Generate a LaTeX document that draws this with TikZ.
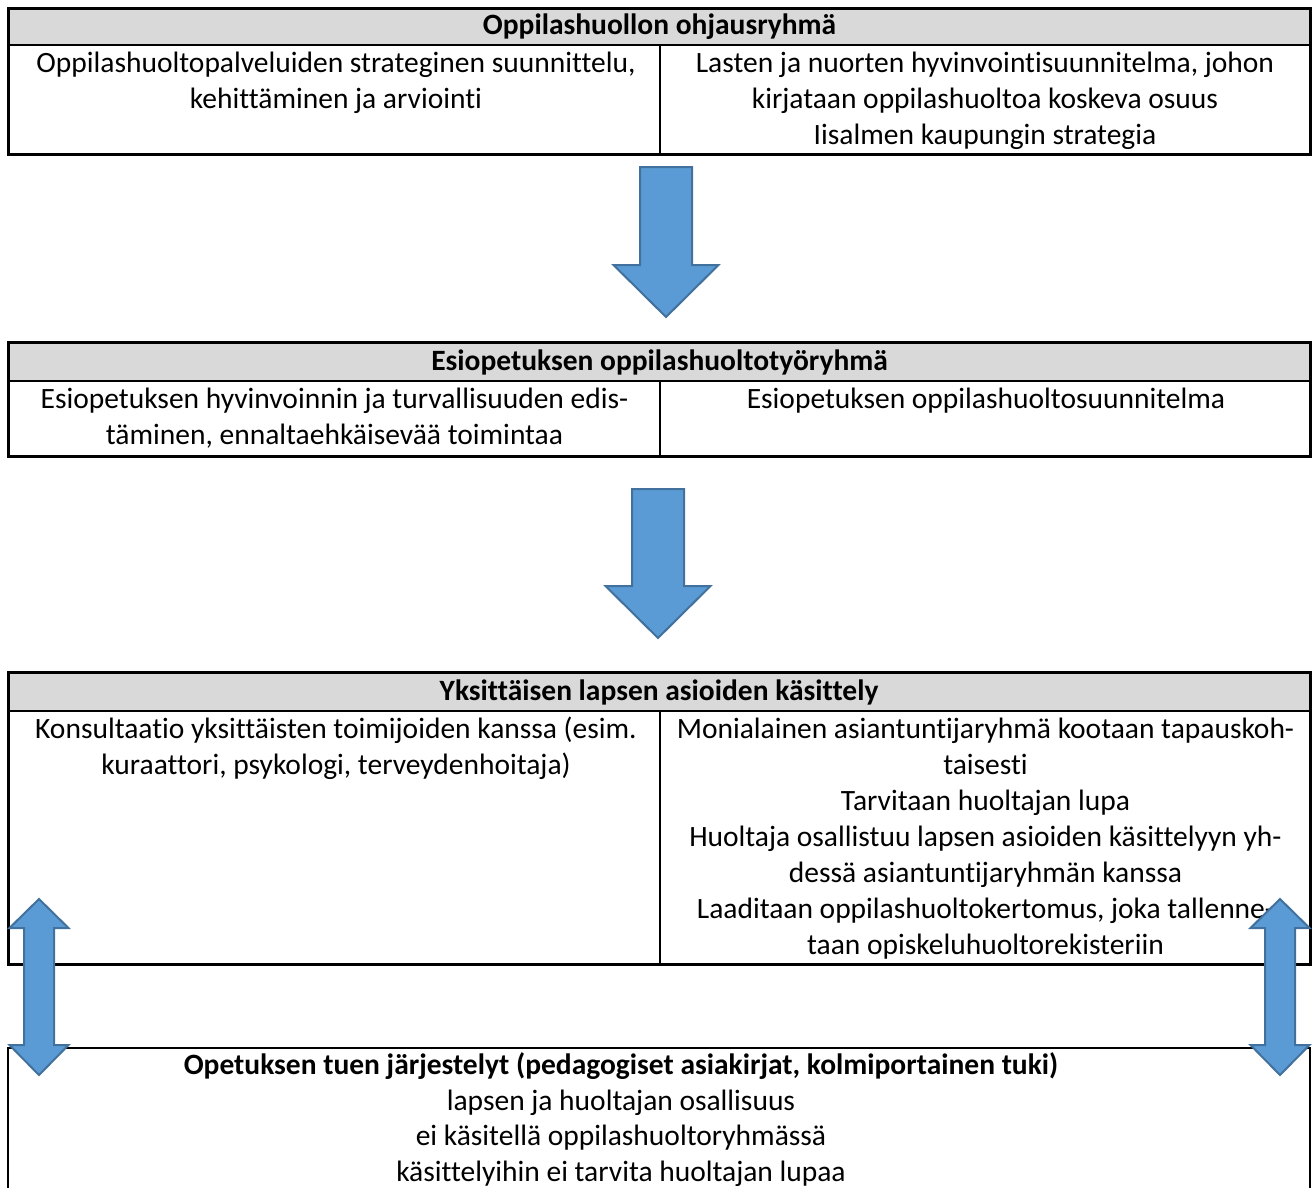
\documentclass[tikz,border=0pt]{standalone}
\usepackage{fontspec}
\setmainfont{Carlito}[Ligatures=CommonOff]
\definecolor{hdrgray}{HTML}{D9D9D9}
\definecolor{arrowfill}{HTML}{5B9BD5}
\definecolor{arrowline}{HTML}{41719C}
\tikzset{
  outerframe/.style={draw=black, line width=3pt, inner sep=0pt, outer sep=0pt, anchor=north west},
  headband/.style={fill=hdrgray, draw=none, inner sep=0pt, outer sep=0pt, anchor=north west, minimum width=1302pt},
  innerline/.style={draw=black, line width=1.6pt},
  titletext/.style={anchor=base, inner sep=0pt, font=\fontsize{29.5}{36}\selectfont\bfseries},
  bodytext/.style={anchor=north, align=center, inner sep=0pt, font=\fontsize{29.5}{36}\selectfont},
  lowbox/.style={draw=black, line width=2pt, inner sep=0pt, outer sep=0pt, anchor=north west},
  blockarrow/.style={fill=arrowfill, draw=arrowline, line width=2pt, line join=miter},
}
\begin{document}
\begin{tikzpicture}[x=1pt,y=-1pt]
\path[use as bounding box] (0,0) rectangle (1314,1187);
\clip (0,0) rectangle (1314,1187);

% ---------- Table 1 ----------
\node[headband, minimum height=37pt] (h1) at (8,8) {};
\draw[innerline] (h1.south west) -- (h1.south east);
\coordinate (d1top) at (660,45);
\coordinate (d1bot) at (660,154);
\draw[innerline] (d1top) -- (d1bot);
\node[outerframe, minimum width=1302pt, minimum height=146pt] (tab1) at (8,8) {};
\node[titletext] (t1title) at (659.5,34) {Oppilashuollon ohjausryhmä};
\node[bodytext] (t1left) at (336,46.8) {\strut Oppilashuoltopalveluiden strateginen suunnittelu,\\ kehittäminen ja arviointi};
\node[bodytext] (t1right) at (985,46.8) {\strut Lasten ja nuorten hyvinvointisuunnitelma, johon\\ kirjataan oppilashuoltoa koskeva osuus\\ Iisalmen kaupungin strategia};

% ---------- Arrow 1 ----------
\draw[blockarrow] (640,167) -- (692,167) -- (692,265) -- (718.5,265) -- (666,317) -- (613.5,265) -- (640,265) -- cycle;

% ---------- Table 2 ----------
\node[headband, minimum height=39pt] (h2) at (8,342) {};
\draw[innerline] (h2.south west) -- (h2.south east);
\coordinate (d2top) at (660,381);
\coordinate (d2bot) at (660,456);
\draw[innerline] (d2top) -- (d2bot);
\node[outerframe, minimum width=1302pt, minimum height=114pt] (tab2) at (8,342) {};
\node[titletext] (t2title) at (659.5,370) {Esiopetuksen oppilashuoltotyöryhmä};
\node[bodytext] (t2left) at (334.5,382.8) {\strut Esiopetuksen hyvinvoinnin ja turvallisuuden edis-\\ täminen, ennaltaehkäisevää toimintaa};
\node[bodytext] (t2right) at (986,382.8) {\strut Esiopetuksen oppilashuoltosuunnitelma};

% ---------- Arrow 2 ----------
\draw[blockarrow] (632,489) -- (684,489) -- (684,586) -- (710.5,586) -- (658,638) -- (605.5,586) -- (632,586) -- cycle;

% ---------- Table 3 ----------
\node[headband, minimum height=39pt] (h3) at (8,672) {};
\draw[innerline] (h3.south west) -- (h3.south east);
\coordinate (d3top) at (660,711);
\coordinate (d3bot) at (660,964);
\draw[innerline] (d3top) -- (d3bot);
\node[outerframe, minimum width=1302pt, minimum height=292pt] (tab3) at (8,672) {};
\node[titletext] (t3title) at (659,700) {Yksittäisen lapsen asioiden käsittely};
\node[bodytext] (t3left) at (336,712.8) {\strut Konsultaatio yksittäisten toimijoiden kanssa (esim.\\ kuraattori, psykologi, terveydenhoitaja)};
\node[bodytext] (t3right) at (985.5,712.8) {\strut Monialainen asiantuntijaryhmä kootaan tapauskoh-\\ taisesti\\ Tarvitaan huoltajan lupa\\ Huoltaja osallistuu lapsen asioiden käsittelyyn yh-\\ dessä asiantuntijaryhmän kanssa\\ Laaditaan oppilashuoltokertomus, joka tallenne-\\ taan opiskeluhuoltorekisteriin};

% ---------- Bottom box ----------
\node[lowbox, minimum width=1302pt, minimum height=170pt] (tuki) at (8,1048) {};
\node[bodytext, font=\fontsize{29.5}{35.7}\selectfont] (tukitext) at (621,1049.2) {\strut\textbf{Opetuksen tuen järjestelyt (pedagogiset asiakirjat, kolmiportainen tuki)}\\ lapsen ja huoltajan osallisuus\\ ei käsitellä oppilashuoltoryhmässä\\ käsittelyihin ei tarvita huoltajan lupaa};

% ---------- Double arrows ----------
\draw[blockarrow] (39,899) -- (68.5,928) -- (54,928) -- (54,1045) -- (68.5,1045) -- (39,1075) -- (9.5,1045) -- (24,1045) -- (24,928) -- (9.5,928) -- cycle;
\draw[blockarrow] (1280,899) -- (1309.5,928) -- (1295,928) -- (1295,1045) -- (1309.5,1045) -- (1280,1075) -- (1250.5,1045) -- (1265,1045) -- (1265,928) -- (1250.5,928) -- cycle;
\end{tikzpicture}
\end{document}
